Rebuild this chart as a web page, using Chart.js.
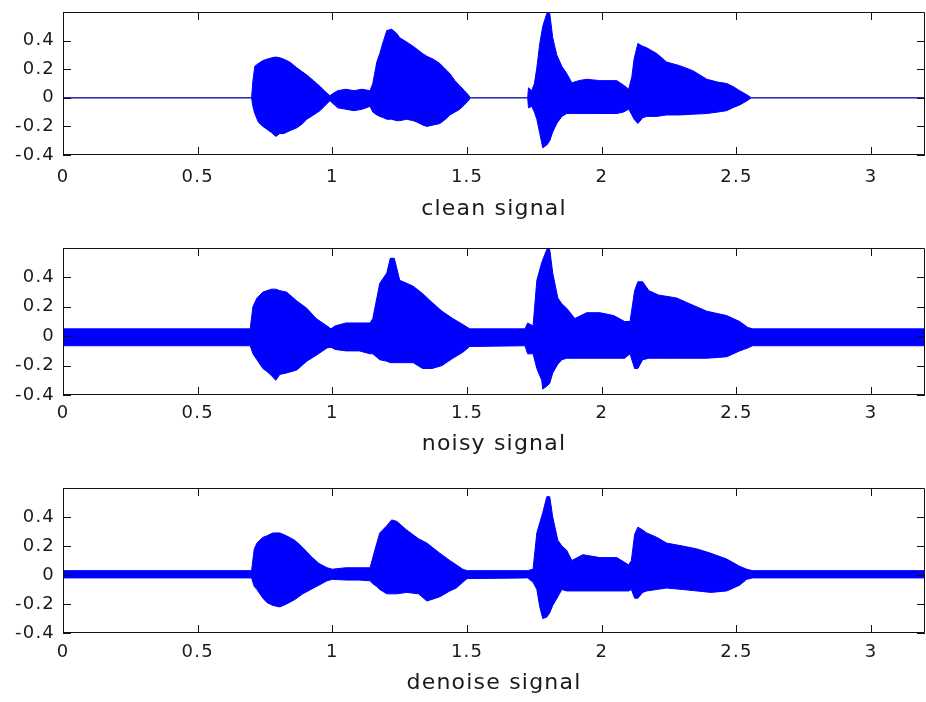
<!DOCTYPE html>
<html>
<head>
<meta charset="utf-8">
<script src="https://cdn.jsdelivr.net/npm/chart.js@4/dist/chart.umd.min.js"></script>
<style>
  html, body { margin: 0; padding: 0; background: #fff; overflow: hidden; }
  body { width: 926px; height: 702px; position: relative; }
  canvas { position: absolute; left: 0; }
</style>
</head>
<body>
<canvas id="c0" width="926" height="234"></canvas>
<canvas id="c1" width="926" height="234"></canvas>
<canvas id="c2" width="926" height="234"></canvas>
<script>
// tick values / labels
const xTicks = [0, 0.5, 1, 1.5, 2, 2.5, 3];
const xTickLabels = ["0", "0.5", "1", "1.5", "2", "2.5", "3"];
const yTicks = [-0.4, -0.2, 0, 0.2, 0.4];
const yTickLabels = ["-0.4", "-0.2", "0", "0.2", "0.4"];
const titles = ["clean signal", "noisy signal", "denoise signal"];

// clean signal envelope (time, upper, lower)
const cleanT  = [0, 0.700, 0.705, 0.712, 0.725, 0.742, 0.757, 0.775, 0.790, 0.805, 0.820, 0.842, 0.868, 0.890, 0.905, 0.930, 0.954, 0.975, 0.991, 1.002, 1.02, 1.05, 1.08, 1.11, 1.14, 1.150, 1.165, 1.176, 1.190, 1.202, 1.220, 1.239, 1.250, 1.276, 1.300, 1.314, 1.335, 1.351, 1.375, 1.399, 1.420, 1.436, 1.455, 1.473, 1.490, 1.505, 1.512, 1.725, 1.728, 1.740, 1.750, 1.759, 1.770, 1.781, 1.796, 1.807, 1.818, 1.833, 1.852, 1.870, 1.889, 1.915, 1.944, 1.993, 2.056, 2.080, 2.100, 2.112, 2.120, 2.134, 2.152, 2.167, 2.185, 2.204, 2.241, 2.289, 2.338, 2.390, 2.430, 2.464, 2.486, 2.512, 2.540, 2.555, 3.2];
const cleanUp = [0, 0, 0.12, 0.22, 0.24, 0.26, 0.27, 0.28, 0.285, 0.28, 0.27, 0.25, 0.21, 0.18, 0.16, 0.12, 0.08, 0.04, 0.015, 0.03, 0.05, 0.06, 0.05, 0.06, 0.05, 0.10, 0.25, 0.31, 0.40, 0.47, 0.48, 0.45, 0.42, 0.39, 0.36, 0.34, 0.31, 0.29, 0.27, 0.24, 0.20, 0.17, 0.12, 0.085, 0.05, 0.02, 0, 0, 0.07, 0.05, 0.10, 0.21, 0.38, 0.50, 0.59, 0.59, 0.42, 0.30, 0.22, 0.17, 0.105, 0.12, 0.13, 0.12, 0.12, 0.09, 0.06, 0.15, 0.27, 0.38, 0.36, 0.35, 0.33, 0.31, 0.25, 0.225, 0.19, 0.13, 0.11, 0.10, 0.08, 0.05, 0.02, 0, 0];
const cleanLo = [0, 0, -0.06, -0.11, -0.17, -0.20, -0.22, -0.245, -0.27, -0.25, -0.25, -0.23, -0.21, -0.18, -0.15, -0.12, -0.09, -0.05, -0.02, -0.04, -0.07, -0.08, -0.09, -0.08, -0.06, -0.10, -0.12, -0.13, -0.14, -0.15, -0.15, -0.16, -0.16, -0.15, -0.16, -0.17, -0.19, -0.20, -0.19, -0.18, -0.15, -0.12, -0.10, -0.08, -0.05, -0.02, 0, 0, -0.07, -0.06, -0.10, -0.15, -0.25, -0.35, -0.33, -0.30, -0.24, -0.18, -0.13, -0.11, -0.11, -0.11, -0.11, -0.11, -0.11, -0.10, -0.08, -0.12, -0.15, -0.18, -0.14, -0.13, -0.13, -0.13, -0.12, -0.12, -0.115, -0.11, -0.10, -0.09, -0.07, -0.05, -0.02, 0, 0];

// noisy signal envelope
const noisyT  = [0, 0.695, 0.705, 0.720, 0.742, 0.757, 0.775, 0.790, 0.805, 0.830, 0.868, 0.905, 0.940, 0.980, 0.995, 1.010, 1.05, 1.10, 1.14, 1.150, 1.176, 1.202, 1.215, 1.230, 1.250, 1.276, 1.300, 1.335, 1.370, 1.407, 1.447, 1.484, 1.510, 1.715, 1.725, 1.745, 1.759, 1.777, 1.781, 1.796, 1.807, 1.818, 1.837, 1.852, 1.870, 1.900, 1.944, 1.993, 2.045, 2.085, 2.105, 2.122, 2.134, 2.152, 2.175, 2.211, 2.278, 2.327, 2.390, 2.464, 2.512, 2.542, 2.560, 3.2];
const noisyUp = [0.05, 0.05, 0.20, 0.26, 0.30, 0.31, 0.32, 0.32, 0.31, 0.30, 0.24, 0.19, 0.12, 0.07, 0.05, 0.07, 0.09, 0.09, 0.09, 0.12, 0.36, 0.43, 0.53, 0.53, 0.38, 0.36, 0.34, 0.29, 0.23, 0.17, 0.12, 0.08, 0.05, 0.05, 0.09, 0.07, 0.38, 0.50, 0.52, 0.59, 0.59, 0.43, 0.26, 0.22, 0.19, 0.12, 0.16, 0.16, 0.14, 0.10, 0.10, 0.31, 0.37, 0.37, 0.31, 0.28, 0.26, 0.22, 0.17, 0.14, 0.10, 0.06, 0.05, 0.05];
const noisyLo = [-0.065, -0.065, -0.12, -0.16, -0.22, -0.24, -0.27, -0.30, -0.26, -0.25, -0.23, -0.17, -0.13, -0.08, -0.075, -0.09, -0.10, -0.10, -0.12, -0.12, -0.16, -0.17, -0.18, -0.18, -0.18, -0.18, -0.18, -0.22, -0.22, -0.20, -0.15, -0.11, -0.07, -0.065, -0.12, -0.12, -0.22, -0.30, -0.36, -0.34, -0.32, -0.25, -0.19, -0.16, -0.15, -0.15, -0.15, -0.15, -0.15, -0.15, -0.12, -0.22, -0.22, -0.16, -0.15, -0.15, -0.15, -0.15, -0.15, -0.14, -0.10, -0.08, -0.065, -0.065];

// denoised signal envelope
const denoT  = [0, 0.700, 0.710, 0.720, 0.742, 0.757, 0.779, 0.805, 0.830, 0.860, 0.890, 0.920, 0.950, 0.980, 1.000, 1.05, 1.10, 1.14, 1.150, 1.165, 1.176, 1.202, 1.220, 1.239, 1.276, 1.320, 1.351, 1.399, 1.436, 1.460, 1.484, 1.500, 1.725, 1.745, 1.759, 1.770, 1.781, 1.796, 1.807, 1.818, 1.837, 1.852, 1.870, 1.889, 1.930, 1.993, 2.056, 2.100, 2.110, 2.122, 2.134, 2.152, 2.167, 2.204, 2.241, 2.300, 2.353, 2.405, 2.464, 2.512, 2.538, 2.560, 3.2];
const denoUp = [0.03, 0.03, 0.18, 0.22, 0.26, 0.27, 0.29, 0.29, 0.27, 0.24, 0.19, 0.13, 0.08, 0.05, 0.04, 0.05, 0.05, 0.05, 0.12, 0.22, 0.29, 0.34, 0.38, 0.37, 0.31, 0.25, 0.22, 0.15, 0.10, 0.07, 0.04, 0.03, 0.03, 0.04, 0.29, 0.36, 0.43, 0.54, 0.54, 0.40, 0.24, 0.20, 0.17, 0.10, 0.14, 0.12, 0.12, 0.07, 0.10, 0.28, 0.33, 0.31, 0.29, 0.26, 0.22, 0.20, 0.18, 0.15, 0.11, 0.06, 0.04, 0.03, 0.03];
const denoLo = [-0.02, -0.02, -0.08, -0.10, -0.16, -0.19, -0.21, -0.22, -0.20, -0.17, -0.13, -0.10, -0.07, -0.04, -0.03, -0.035, -0.035, -0.04, -0.06, -0.08, -0.10, -0.13, -0.13, -0.13, -0.12, -0.13, -0.18, -0.15, -0.11, -0.09, -0.05, -0.025, -0.02, -0.05, -0.10, -0.22, -0.30, -0.29, -0.26, -0.21, -0.15, -0.10, -0.11, -0.11, -0.11, -0.11, -0.11, -0.11, -0.10, -0.16, -0.16, -0.12, -0.11, -0.10, -0.09, -0.10, -0.11, -0.12, -0.11, -0.07, -0.03, -0.02, -0.02];

// panel placement: plot top/bottom, tick label gap, title centre
const panels = [
    { id: "c0", top: 12,  bottom: 155, tickPad: 12, titleY: 209, t: cleanT, up: cleanUp, lo: cleanLo },
    { id: "c1", top: 248, bottom: 395, tickPad: 8,  titleY: 444, t: noisyT, up: noisyUp, lo: noisyLo },
    { id: "c2", top: 488, bottom: 633, tickPad: 9,  titleY: 683, t: denoT, up: denoUp, lo: denoLo },
];

const FONT = "'DejaVu Sans', sans-serif";
const CANVAS_H = 234;

// wider text like the old matlab renderer
const spacingPlugin = {
    id: "spacing",
    beforeLayout(chart) { chart.ctx.letterSpacing = "1.2px"; },
    beforeDraw(chart) { chart.ctx.letterSpacing = "1.2px"; },
};

// matlab style box with inward ticks
const boxPlugin = {
    id: "box",
    afterDraw(chart) {
        const { ctx, chartArea: a, scales } = chart;
        const tl = 8;
        ctx.save();
        ctx.strokeStyle = "#111";
        ctx.lineWidth = 1;
        ctx.beginPath();
        ctx.rect(a.left + 0.5, a.top + 0.5, a.right - a.left - 1, a.bottom - a.top - 1);
        scales.x.ticks.forEach((t) => {
            const px = Math.round(scales.x.getPixelForValue(t.value)) + 0.5;
            ctx.moveTo(px, a.bottom);
            ctx.lineTo(px, a.bottom - tl);
            ctx.moveTo(px, a.top);
            ctx.lineTo(px, a.top + tl);
        });
        scales.y.ticks.forEach((t) => {
            const py = Math.round(scales.y.getPixelForValue(t.value)) + 0.5;
            ctx.moveTo(a.left, py);
            ctx.lineTo(a.left + tl, py);
            ctx.moveTo(a.right, py);
            ctx.lineTo(a.right - tl, py);
        });
        ctx.stroke();
        ctx.restore();
    },
};

// flat (silent) stretches are drawn as a thin dark blue line
const flatColor = (c) =>
    c.p0.parsed.y === 0 && c.p1.parsed.y === 0 ? "#1a1aa6" : undefined;

panels.forEach((p, idx) => {
    const canvas = document.getElementById(p.id);
    const canvasTop = p.top - 12;
    canvas.style.top = canvasTop + "px";
    const plotH = p.bottom - p.top;
    const axisH = CANVAS_H - 12 - plotH;
    const titlePad = canvasTop + CANVAS_H - p.titleY - 11;

    const upper = p.t.map((t, i) => ({ x: t, y: p.up[i] }));
    const lower = p.t.map((t, i) => ({ x: t, y: p.lo[i] }));

    new Chart(canvas.getContext("2d"), {
        type: "line",
        data: {
            datasets: [
                {
                    data: upper,
                    borderColor: "#0000ff",
                    backgroundColor: "#0000ff",
                    borderWidth: 1,
                    pointRadius: 0,
                    tension: 0,
                    fill: "+1",
                    segment: { borderColor: flatColor },
                },
                {
                    data: lower,
                    borderColor: "#0000ff",
                    borderWidth: 1,
                    pointRadius: 0,
                    tension: 0,
                    fill: false,
                    segment: { borderColor: flatColor },
                },
            ],
        },
        options: {
            responsive: false,
            animation: false,
            devicePixelRatio: 1,
            layout: { padding: { top: 12, right: 1, left: 0, bottom: 0 } },
            plugins: { legend: { display: false }, tooltip: { enabled: false } },
            scales: {
                x: {
                    type: "linear",
                    min: 0,
                    max: 3.2,
                    grid: { display: false, drawTicks: false, tickLength: 0 },
                    border: { display: false },
                    afterBuildTicks: (s) => { s.ticks = xTicks.map((v) => ({ value: v })); },
                    afterFit: (s) => { s.height = axisH; },
                    ticks: {
                        padding: p.tickPad,
                        maxRotation: 0,
                        autoSkip: false,
                        color: "#1a1a1a",
                        font: { family: FONT, size: 18 },
                        callback: (v) => xTickLabels[xTicks.indexOf(v)],
                    },
                    title: {
                        display: true,
                        text: titles[idx],
                        color: "#1a1a1a",
                        font: { family: FONT, size: 22, lineHeight: 1 },
                        padding: { top: 0, bottom: titlePad },
                    },
                },
                y: {
                    min: -0.4,
                    max: 0.6,
                    grid: { display: false, drawTicks: false, tickLength: 0 },
                    border: { display: false },
                    afterBuildTicks: (s) => { s.ticks = yTicks.map((v) => ({ value: v })); },
                    afterFit: (s) => {
                        s.width = 63;
                        s.paddingTop = 0;
                        s.paddingBottom = 0;
                    },
                    ticks: {
                        padding: 8,
                        autoSkip: false,
                        color: "#1a1a1a",
                        font: { family: FONT, size: 18 },
                        callback: (v) => yTickLabels[yTicks.indexOf(v)],
                    },
                },
            },
        },
        plugins: [spacingPlugin, boxPlugin],
    });
});
</script>
</body>
</html>
